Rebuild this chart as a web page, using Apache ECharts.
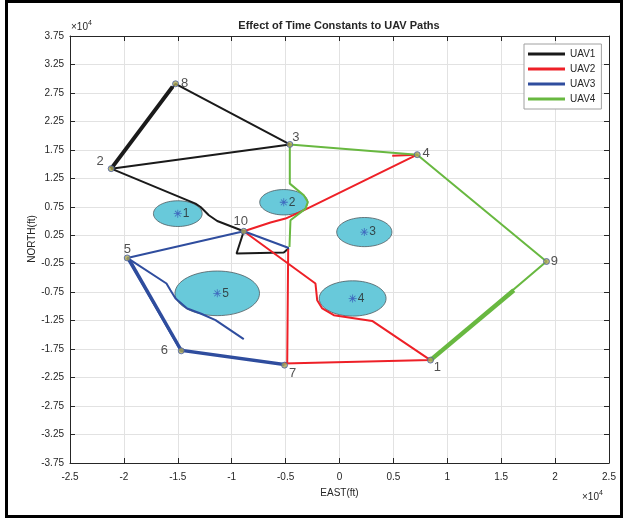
<!DOCTYPE html>
<html><head><meta charset="utf-8">
<script src="https://cdn.jsdelivr.net/npm/echarts@6/dist/echarts.min.js"></script>
<style>html,body{margin:0;padding:0;background:#fff}#c{width:627px;height:519px}</style>
</head><body><div id="c"></div>
<script>
// ---- data (units of 1e4 ft) ----
const xTickMin = -2.5, xTickMax = 2.5, xTickStep = 0.5;
const yTickMin = -3.75, yTickMax = 3.75, yTickStep = 0.5;

const waypointNames = ['1','2','3','4','5','6','7','8','9','10'];
const waypointEast  = [0.844, -2.118, -0.461, 0.721, -1.969, -1.468, -0.510, -1.521, 1.920, -0.888];
const waypointNorth = [-1.943, 1.420, 1.846, 1.666, -0.148, -1.780, -2.031, 2.911, -0.211, 0.320];

const obstacleNames  = ['1','2','3','4','5'];
const obstacleEast   = [-1.500, -0.517, 0.230, 0.122, -1.134];
const obstacleNorth  = [0.630, 0.830, 0.306, -0.860, -0.770];
const obstacleRadius = [0.226, 0.223, 0.256, 0.310, 0.392];

const uav1Path  = [[-2.118,1.420],[-1.521,2.911],[-0.461,1.846],[-2.118,1.420],[-1.336,0.806],[-1.289,0.747],[-1.212,0.601],[-1.134,0.501],[-0.888,0.320],[-0.955,-0.071],[-0.517,-0.054],[-0.470,0.022]];
const uav1Extra = [[-2.118,1.420],[-1.548,2.860]];

const uav2Path  = [[0.489,1.645],[0.721,1.666],[-0.300,0.718],[-0.378,0.648],[-0.501,0.543],[-0.640,0.473],[-0.888,0.320],[-0.223,-0.597],[-0.207,-0.890],[-0.160,-1.036],[-0.053,-1.154],[0.303,-1.254],[0.844,-1.943],[-0.519,-2.004],[-0.485,-1.990],[-0.476,0.005]];

const uav3Path  = [[-1.969,-0.148],[-0.888,0.320],[-0.470,0.027]];
const uav3Curve = [[-1.969,-0.148],[-1.605,-0.597],[-1.568,-0.715],[-1.521,-0.861],[-1.413,-1.036],[-1.289,-1.124],[-1.150,-1.241],[-0.888,-1.575]];
const uav3Fan1  = [[-1.969,-0.148],[-1.468,-1.780],[-0.510,-2.031]];
const uav3Fan2  = [[-1.955,-0.170],[-1.478,-1.760],[-0.515,-2.010]];
const uav3Fan3  = [[-1.940,-0.190],[-1.462,-1.770]];

const uav4Path  = [[-0.461,1.846],[0.721,1.666],[1.920,-0.211],[0.844,-1.943]];
const uav4Curve = [[-0.461,1.846],[-0.461,1.157],[-0.331,0.952],[-0.294,0.834],[-0.315,0.718],[-0.455,0.513],[-0.464,0.045]];
const uav4Extra = [[0.844,-1.943],[1.617,-0.715]];

const legendNames = ['UAV1','UAV2','UAV3','UAV4'];

// ---- styles ----
const colors = {UAV1:'#1a1a1a', UAV2:'#ee2027', UAV3:'#2f4d9e', UAV4:'#68b840'};
const FONT = '"Liberation Sans", Arial, sans-serif';
const TXT = '#262626';
// label offsets for waypoint numbers (style, px)
const wpLabelOffset = [[7,7],[-11,-7],[6,-7],[9,-1],[0,-9],[-17,0],[8,8],[9,0],[8,0],[-3,-10]];

function lineSeries(name, data, width) {
  return {type:'line', name, data, color: colors[name], showSymbol:false, symbol:'none',
    lineStyle:{width, color: colors[name]}, silent:true, animation:false, z:3};
}

const series = [];
series.push({
  type:'custom', silent:true, animation:false, z:1,
  data: obstacleEast.map((x,i)=>[x, obstacleNorth[i], obstacleRadius[i]]),
  encode:{x:0,y:1},
  renderItem(params, api){
    const c = api.coord([api.value(0), api.value(1)]);
    const s = api.size([api.value(2), api.value(2)]);
    return {type:'ellipse', shape:{cx:c[0], cy:c[1], rx:s[0], ry:s[1]},
      style:{fill:'#68c9da', stroke:'#505a60', lineWidth:0.8}};
  }
});
series.push(lineSeries('UAV1', uav1Path, 2));
series.push(lineSeries('UAV1', uav1Extra, 4));
series.push(lineSeries('UAV2', uav2Path, 2));
series.push(lineSeries('UAV3', uav3Path, 2));
series.push(lineSeries('UAV3', uav3Curve, 2));
series.push(lineSeries('UAV3', uav3Fan1, 2.5));
series.push(lineSeries('UAV3', uav3Fan2, 2.5));
series.push(lineSeries('UAV3', uav3Fan3, 2));
series.push(lineSeries('UAV4', uav4Path, 2));
series.push(lineSeries('UAV4', uav4Curve, 2));
series.push(lineSeries('UAV4', uav4Extra, 4.5));

// obstacle centre stars + labels
series.push({
  type:'scatter', silent:true, animation:false, z:5,
  symbol:'path://M4.5,0h1v10h-1z M0,4.5h10v1h-10z M1.2,1.9l0.7,-0.7l7.1,7.1l-0.7,0.7z M8.1,1.2l0.7,0.7l-7.1,7.1l-0.7,-0.7z',
  symbolSize:8, itemStyle:{color:'#3452b8'},
  data: obstacleEast.map((x,i)=>({value:[x, obstacleNorth[i]], name: obstacleNames[i]})),
  label:{show:true, position:'right', distance:1, formatter:p=>p.name, fontSize:12, color:TXT, fontFamily:FONT}
});
// waypoints
series.push({
  type:'scatter', silent:true, animation:false, z:6,
  symbol:'circle', symbolSize:6,
  itemStyle:{color:'#aaa555', borderColor:'#4a62a8', borderWidth:1},
  data: waypointEast.map((x,i)=>({value:[x, waypointNorth[i]], name: waypointNames[i],
      label:{offset: wpLabelOffset[i]}})),
  label:{show:true, position:'inside', align:'center', verticalAlign:'middle',
    formatter:p=>p.name, fontSize:13, color:TXT, fontFamily:FONT}
});

const axisCommon = {
  axisLine:{show:true, onZero:false, lineStyle:{color:TXT, width:1}},
  axisTick:{show:true, inside:true, length:5, lineStyle:{color:TXT}},
};

const option = {
  animation:false,
  backgroundColor:'#fff',
  grid:{left:70, right:18, top:36, bottom:56, containLabel:false},
  xAxis:[
    Object.assign({type:'value', min:xTickMin, max:xTickMax, interval:xTickStep, position:'bottom',
      name:'EAST(ft)', nameLocation:'middle', nameGap:25,
      nameTextStyle:{fontSize:10, color:TXT, fontFamily:FONT},
      axisLabel:{fontSize:10, color:TXT, fontFamily:FONT, margin:9},
      splitLine:{show:true, lineStyle:{color:'#e2e2e2', width:1}}}, axisCommon),
    Object.assign({type:'value', min:xTickMin, max:xTickMax, interval:xTickStep, position:'top',
      axisLabel:{show:false}, splitLine:{show:false}}, axisCommon)
  ],
  yAxis:[
    Object.assign({type:'value', min:yTickMin, max:yTickMax, interval:yTickStep, position:'left',
      axisLabel:{fontSize:10, color:TXT, fontFamily:FONT, margin:6,
        formatter:v=>v.toFixed(2)},
      splitLine:{show:true, lineStyle:{color:'#e2e2e2', width:1}}}, axisCommon),
    Object.assign({type:'value', min:yTickMin, max:yTickMax, interval:yTickStep, position:'right',
      axisLabel:{show:false}, splitLine:{show:false}}, axisCommon)
  ],
  legend:{
    data: legendNames, orient:'vertical', left:524, top:44,
    icon:'rect', itemWidth:37, itemHeight:3, itemGap:3,
    padding:[4,6,4,4], borderColor:'#a0a0a0', borderWidth:1, backgroundColor:'#fff',
    textStyle:{fontSize:10, color:TXT, fontFamily:FONT, lineHeight:12},
    selectedMode:false
  },
  series,
  graphic:[
    {type:'text', style:{x:339, y:26, text:'Effect of Time Constants to UAV Paths',
      textAlign:'center', textVerticalAlign:'middle', font:'bold 11px '+FONT, fill:TXT}},
    {type:'text', x:32, y:239, rotation:Math.PI/2, style:{x:0, y:0, text:'NORTH(ft)',
      textAlign:'center', textVerticalAlign:'middle', font:'10px '+FONT, fill:TXT}},
    {type:'text', style:{x:71, y:27, text:'×10{s|4}', textVerticalAlign:'middle',
      font:'10px '+FONT, fill:TXT, rich:{s:{fontSize:7, padding:[0,0,7,0], fontFamily:FONT, fill:TXT}}}},
    {type:'text', style:{x:582, y:497, text:'×10{s|4}', textVerticalAlign:'middle',
      font:'10px '+FONT, fill:TXT, rich:{s:{fontSize:7, padding:[0,0,7,0], fontFamily:FONT, fill:TXT}}}},
    {type:'rect', shape:{x:6.5, y:1.5, width:615, height:515}, style:{fill:null, stroke:'#000', lineWidth:3}, z:100}
  ]
};
const chart = echarts.init(document.getElementById('c'), null, {renderer:'canvas'});
chart.setOption(option);
</script></body></html>
